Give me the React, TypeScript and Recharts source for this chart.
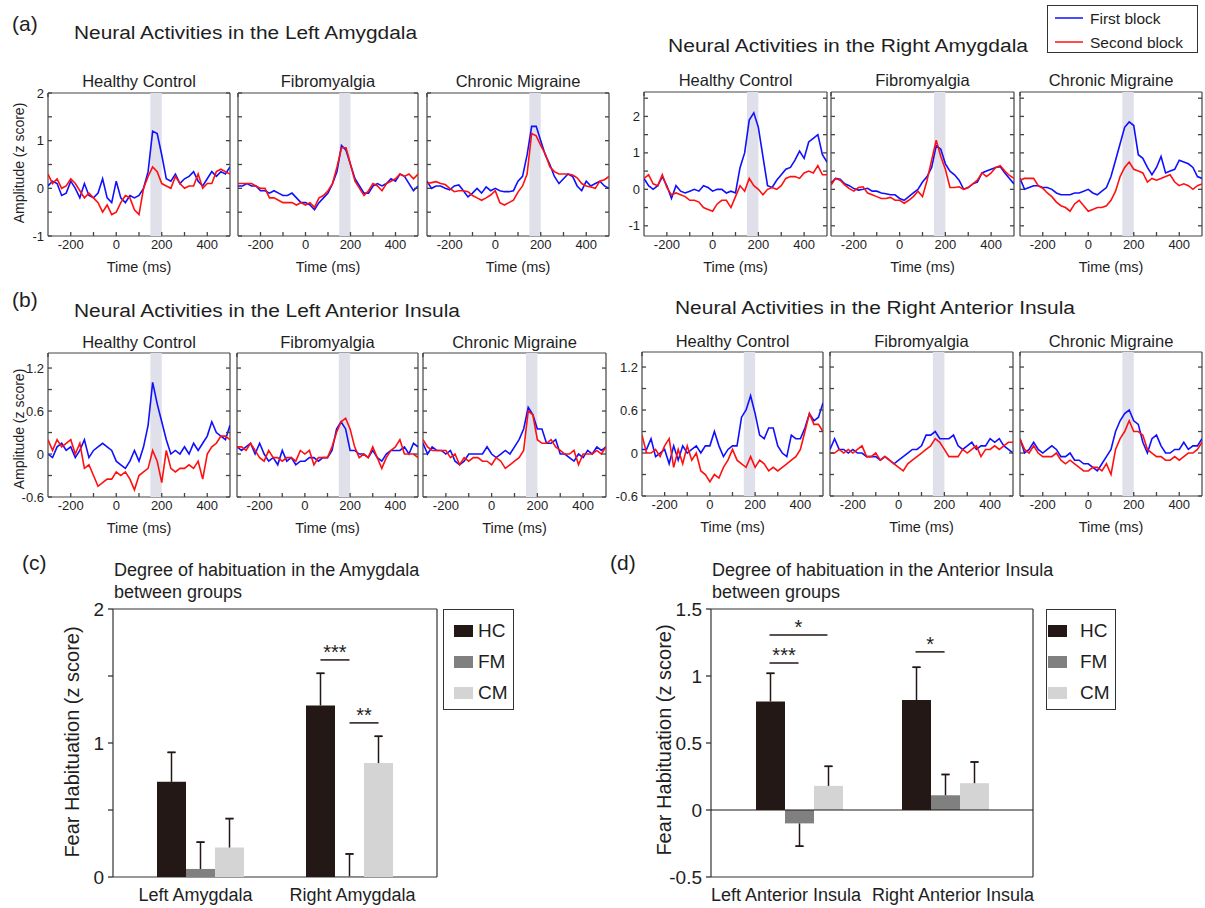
import React from "react"
import {
  LineChart,
  Line,
  BarChart,
  Bar,
  ErrorBar,
  XAxis,
  YAxis,
  CartesianGrid,
  ReferenceArea,
  ReferenceLine,
  Legend,
} from "recharts"

// ---- time courses (z score), sampled every 20 ms ----
const TIME_MS = [-300, -280, -260, -240, -220, -200, -180, -160, -140, -120, -100, -80, -60, -40, -20, 0, 20, 40, 60, 80, 100, 120, 140, 160, 180, 200, 220, 240, 260, 280, 300, 320, 340, 360, 380, 400, 420, 440, 460, 480, 500]
const X_TICKS = [-200, -100, 0, 100, 200, 300, 400]
const SHADE_MS = [150, 200]

const LA_HC_FIRST = [0.05, 0.15, 0.1, -0.15, -0.1, 0.15, 0.0, -0.2, 0.1, -0.15, -0.2, -0.1, 0.2, -0.2, -0.3, 0.15, -0.2, -0.3, -0.15, -0.2, -0.15, 0.0, 0.35, 1.2, 1.15, 0.7, 0.2, 0.15, 0.3, 0.1, 0.2, 0.25, 0.35, 0.15, 0.05, 0.2, 0.35, 0.25, 0.35, 0.3, 0.45]
const LA_HC_SECOND = [0.3, 0.1, 0.2, 0.0, 0.05, 0.2, 0.1, -0.05, -0.2, -0.1, -0.2, -0.3, -0.5, -0.35, -0.55, -0.5, -0.3, -0.15, -0.2, -0.45, -0.55, 0.0, 0.25, 0.45, 0.35, 0.1, 0.05, 0.0, 0.25, 0.1, 0.0, 0.05, 0.05, 0.3, 0.0, 0.1, 0.1, 0.35, 0.4, 0.35, 0.3]
const LA_FM_FIRST = [0.05, 0.05, 0.1, 0.05, 0.05, -0.05, -0.05, -0.1, -0.05, -0.1, -0.15, -0.15, -0.1, -0.2, -0.3, -0.3, -0.35, -0.45, -0.3, -0.2, -0.1, 0.1, 0.35, 0.9, 0.8, 0.5, 0.2, 0.05, -0.1, -0.1, 0.05, 0.1, 0.05, 0.1, 0.2, 0.15, 0.3, 0.25, 0.1, -0.05, 0.05]
const LA_FM_SECOND = [0.1, 0.1, 0.1, 0.1, 0.05, 0.0, 0.0, -0.2, -0.2, -0.25, -0.3, -0.3, -0.3, -0.35, -0.3, -0.35, -0.3, -0.4, -0.2, -0.15, -0.05, 0.1, 0.45, 0.85, 0.85, 0.5, 0.15, 0.0, -0.15, -0.05, 0.1, 0.05, -0.05, 0.1, 0.15, 0.2, 0.3, 0.25, 0.3, 0.2, 0.3]
const LA_CM_FIRST = [0.15, 0.0, 0.05, 0.05, 0.0, -0.03, 0.05, 0.07, -0.05, -0.18, -0.1, 0.0, -0.1, 0.03, -0.05, 0.0, -0.05, -0.07, -0.07, -0.05, 0.15, 0.25, 0.7, 1.3, 1.3, 1.0, 0.7, 0.5, 0.25, 0.1, 0.2, 0.3, 0.25, 0.05, -0.05, 0.15, 0.05, 0.1, 0.15, 0.05, 0.0]
const LA_CM_SECOND = [0.1, 0.12, 0.14, 0.1, 0.08, 0.0, -0.07, -0.05, -0.05, -0.07, -0.15, -0.2, -0.25, -0.2, -0.14, -0.05, -0.3, -0.35, -0.3, -0.25, -0.08, 0.05, 0.3, 1.15, 1.1, 0.9, 0.72, 0.45, 0.35, 0.3, 0.3, 0.3, 0.28, 0.22, 0.1, 0.05, 0.03, 0.0, 0.15, 0.18, 0.25]

const RA_HC_FIRST = [0.3, 0.1, 0.0, 0.1, 0.35, 0.1, -0.25, 0.1, -0.05, -0.1, -0.05, 0.0, -0.05, 0.1, 0.05, -0.05, 0.0, 0.0, -0.1, -0.05, -0.1, 0.6, 1.0, 1.9, 2.1, 1.7, 0.9, 0.1, 0.05, 0.25, 0.4, 0.55, 0.6, 0.8, 1.05, 0.85, 1.3, 1.4, 1.5, 0.95, 0.75]
const RA_HC_SECOND = [0.3, 0.4, 0.15, 0.1, 0.4, 0.05, -0.15, -0.1, -0.15, -0.2, -0.3, -0.3, -0.35, -0.5, -0.55, -0.6, -0.4, -0.3, -0.3, -0.5, -0.2, 0.1, -0.05, 0.3, 0.1, 0.0, -0.15, 0.0, 0.05, 0.0, 0.1, 0.3, 0.35, 0.35, 0.3, 0.45, 0.5, 0.45, 0.65, 0.4, 0.4]
const RA_FM_FIRST = [0.17, 0.3, 0.28, 0.15, 0.1, 0.02, -0.02, 0.0, 0.03, -0.05, -0.05, -0.1, -0.12, -0.15, -0.15, -0.25, -0.3, -0.2, -0.1, 0.0, 0.2, 0.35, 0.6, 1.2, 1.1, 0.7, 0.5, 0.4, 0.25, 0.0, 0.05, 0.15, 0.2, 0.45, 0.5, 0.55, 0.6, 0.62, 0.45, 0.3, 0.15]
const RA_FM_SECOND = [0.12, 0.3, 0.25, 0.12, 0.02, -0.05, 0.05, 0.07, -0.1, -0.15, -0.2, -0.25, -0.25, -0.22, -0.3, -0.3, -0.38, -0.3, -0.2, -0.05, -0.2, 0.25, 0.8, 1.35, 0.9, 0.55, 0.05, 0.05, 0.07, 0.0, 0.05, 0.15, 0.25, 0.45, 0.35, 0.45, 0.6, 0.65, 0.5, 0.38, 0.3]
const RA_CM_FIRST = [0.3, 0.0, 0.05, 0.1, 0.1, 0.05, 0.05, 0.0, -0.1, -0.15, -0.15, -0.15, -0.1, -0.1, -0.05, 0.0, -0.1, -0.15, -0.05, 0.05, 0.35, 0.8, 1.25, 1.7, 1.85, 1.75, 0.95, 0.85, 0.6, 0.4, 0.6, 0.9, 0.45, 0.5, 0.55, 0.8, 0.75, 0.7, 0.6, 0.35, 0.3]
const RA_CM_SECOND = [0.25, 0.3, 0.3, 0.3, 0.1, 0.03, -0.1, -0.2, -0.35, -0.45, -0.5, -0.6, -0.4, -0.3, -0.45, -0.6, -0.55, -0.5, -0.5, -0.45, -0.3, -0.05, 0.35, 0.6, 0.75, 0.55, 0.5, 0.45, 0.2, 0.3, 0.25, 0.3, 0.35, 0.4, 0.2, 0.1, 0.15, 0.1, 0.0, 0.1, 0.15]

const LI_HC_FIRST = [0.0, -0.05, 0.1, 0.15, 0.05, 0.1, -0.05, 0.05, 0.2, -0.05, 0.05, 0.1, 0.15, 0.1, 0.05, -0.1, -0.15, -0.2, -0.1, 0.05, -0.1, 0.1, 0.4, 1.0, 0.7, 0.45, 0.2, 0.0, 0.05, 0.0, 0.1, 0.0, 0.15, 0.05, 0.15, 0.25, 0.45, 0.3, 0.25, 0.2, 0.4]
const LI_HC_SECOND = [0.2, 0.05, 0.2, 0.1, 0.15, 0.2, 0.0, 0.15, -0.2, -0.15, -0.3, -0.45, -0.4, -0.35, -0.35, -0.25, -0.3, -0.25, -0.35, -0.5, -0.3, -0.25, -0.2, 0.05, -0.1, -0.4, 0.05, -0.2, -0.25, -0.2, -0.2, -0.15, -0.2, -0.1, -0.35, 0.0, 0.1, 0.15, 0.25, 0.25, 0.2]
const LI_FM_FIRST = [0.1, 0.05, 0.1, 0.15, 0.0, 0.15, 0.0, -0.1, -0.05, -0.15, 0.05, -0.1, -0.05, -0.15, -0.1, -0.1, -0.05, -0.05, -0.1, -0.05, -0.05, 0.05, 0.35, 0.45, 0.35, 0.05, 0.05, 0.0, 0.0, -0.05, 0.05, -0.05, -0.1, 0.0, 0.05, 0.05, 0.05, 0.1, 0.0, 0.15, 0.1]
const LI_FM_SECOND = [0.1, 0.1, 0.05, 0.15, 0.05, -0.05, -0.1, 0.05, -0.05, -0.05, -0.1, -0.05, -0.05, -0.1, 0.05, 0.0, 0.05, -0.15, -0.05, -0.05, -0.05, 0.1, 0.3, 0.45, 0.5, 0.35, 0.1, -0.05, 0.0, -0.05, 0.1, -0.05, -0.2, -0.05, 0.05, 0.1, 0.2, 0.0, 0.0, 0.0, -0.05]
const LI_CM_FIRST = [0.15, 0.0, 0.1, 0.05, 0.05, 0.0, 0.05, -0.1, -0.15, -0.1, 0.0, 0.0, 0.0, 0.0, 0.1, 0.0, -0.05, 0.0, 0.05, 0.0, 0.1, 0.2, 0.35, 0.65, 0.55, 0.35, 0.35, 0.15, 0.15, 0.2, 0.0, 0.0, -0.05, -0.1, 0.0, -0.05, 0.05, 0.0, 0.1, 0.05, 0.1]
const LI_CM_SECOND = [0.2, 0.1, 0.05, 0.05, 0.05, 0.05, -0.05, 0.0, -0.15, -0.05, -0.1, -0.05, -0.05, -0.1, -0.1, -0.15, -0.05, -0.1, -0.2, -0.15, -0.1, -0.05, 0.05, 0.6, 0.55, 0.2, 0.15, 0.15, 0.2, 0.1, 0.05, 0.0, 0.0, 0.05, -0.15, 0.0, 0.0, 0.0, 0.05, 0.0, 0.1]

const RI_HC_FIRST = [0.05, 0.05, 0.2, -0.05, 0.0, 0.05, -0.15, 0.1, -0.1, 0.1, 0.0, 0.05, 0.1, 0.0, 0.1, 0.1, 0.3, 0.1, -0.05, 0.05, 0.1, 0.1, 0.5, 0.6, 0.8, 0.55, 0.25, 0.2, 0.35, 0.35, 0.1, 0.0, -0.05, 0.25, 0.2, 0.2, 0.35, 0.55, 0.45, 0.5, 0.7]
const RI_HC_SECOND = [0.25, 0.0, 0.0, 0.05, -0.05, 0.1, 0.2, -0.2, 0.05, -0.15, 0.1, -0.1, 0.0, -0.25, -0.3, -0.4, -0.3, -0.35, -0.2, -0.1, 0.05, -0.1, -0.15, -0.2, -0.05, -0.2, -0.1, -0.15, -0.25, -0.2, -0.25, -0.2, -0.15, -0.1, -0.05, 0.05, 0.3, 0.55, 0.4, 0.4, 0.3]
const RI_FM_FIRST = [0.05, 0.2, 0.05, 0.05, 0.0, 0.05, 0.0, 0.0, -0.05, -0.05, -0.05, -0.1, -0.05, -0.1, -0.15, -0.1, -0.05, 0.0, 0.05, 0.05, 0.1, 0.25, 0.25, 0.3, 0.2, 0.2, 0.2, 0.25, 0.1, 0.05, 0.1, 0.15, 0.05, 0.1, 0.1, 0.2, 0.15, 0.2, 0.1, 0.05, 0.0]
const RI_FM_SECOND = [0.0, 0.0, 0.05, 0.0, 0.05, 0.0, 0.05, 0.1, -0.05, -0.05, 0.0, -0.1, -0.05, -0.1, -0.15, -0.2, -0.25, -0.15, -0.1, -0.05, 0.0, 0.05, 0.1, 0.2, 0.15, 0.05, -0.05, -0.05, -0.05, 0.05, 0.0, 0.05, 0.1, -0.05, 0.05, 0.05, 0.1, 0.05, 0.1, 0.15, 0.15]
const RI_CM_FIRST = [0.2, 0.0, 0.05, 0.15, 0.05, 0.0, 0.05, 0.1, 0.05, -0.05, -0.05, 0.0, -0.1, -0.1, -0.15, -0.15, -0.2, -0.25, -0.15, -0.05, 0.05, 0.3, 0.45, 0.55, 0.6, 0.45, 0.4, 0.15, 0.0, 0.2, 0.25, 0.1, 0.0, 0.0, 0.05, 0.05, 0.15, 0.05, 0.1, 0.1, 0.2]
const RI_CM_SECOND = [0.2, 0.05, 0.0, 0.1, 0.0, -0.05, -0.05, -0.05, 0.0, -0.1, -0.15, -0.1, -0.15, -0.2, -0.25, -0.25, -0.2, -0.2, -0.25, -0.15, -0.3, 0.05, 0.2, 0.3, 0.45, 0.3, 0.3, 0.25, 0.05, 0.0, -0.05, -0.05, -0.1, -0.1, -0.05, -0.1, -0.05, 0.0, 0.0, 0.05, 0.15]

// ---- habituation bars ----
const GROUPS = ["HC", "FM", "CM"]
const AMY_REGIONS = ["Left Amygdala", "Right Amygdala"]
const AMY_MEAN = { HC: [0.71, 1.28], FM: [0.06, 0.005], CM: [0.22, 0.85] }
const AMY_SE = { HC: [0.22, 0.24], FM: [0.2, 0.167], CM: [0.216, 0.2] }
const INS_REGIONS = ["Left Anterior Insula", "Right Anterior Insula"]
const INS_MEAN = { HC: [0.81, 0.82], FM: [-0.1, 0.11], CM: [0.18, 0.2] }
const INS_SE = { HC: [0.21, 0.245], FM: [0.17, 0.155], CM: [0.146, 0.158] }
// region centre on the hidden numeric axis (0..2)
const REGION_POS = [0.5, 1.5]

// significance brackets: x in region units (0..2), y in z score
const AMY_SIG = [
  { from: 1.305, to: 1.5, y: 1.62, text: "***" },
  { from: 1.5, to: 1.695, y: 1.15, text: "**" },
]
const INS_SIG = [
  { from: 0.298, to: 0.695, y: 1.306, text: "*" },
  { from: 0.298, to: 0.497, y: 1.097, text: "***" },
  { from: 1.298, to: 1.497, y: 1.18, text: "*" },
]

const FONT = '"Liberation Sans", Arial, Helvetica, sans-serif'
const INK = "#1e1e1e"
const FRAME = "#444"
const BLUE = "#1010ff"
const RED = "#ff1010"
const BAR_COLORS: Record<string, string> = { HC: "#231815", FM: "#808080", CM: "#d4d4d4" }

type YCfg = { domain: [number, number]; ticks: number[]; labels: number[] }
const Y_LAMY: YCfg = { domain: [-1, 2], ticks: [-1, -0.5, 0, 0.5, 1, 1.5, 2], labels: [-1, 0, 1, 2] }
const Y_RAMY: YCfg = { domain: [-1.28, 2.67], ticks: [-1, -0.5, 0, 0.5, 1, 1.5, 2, 2.5], labels: [-1, 0, 1, 2] }
const Y_INS: YCfg = { domain: [-0.6, 1.41], ticks: [-0.6, -0.3, 0, 0.3, 0.6, 0.9, 1.2], labels: [-0.6, 0, 0.6, 1.2] }

const PANELS = [
  { x0: 48, x1: 230, y0: 93, y1: 236, sub: 87, title: "Healthy Control", cfg: Y_LAMY, showY: true, first: LA_HC_FIRST, second: LA_HC_SECOND },
  { x0: 238, x1: 418, y0: 93, y1: 236, sub: 87, title: "Fibromyalgia", cfg: Y_LAMY, showY: false, first: LA_FM_FIRST, second: LA_FM_SECOND },
  { x0: 427, x1: 609, y0: 93, y1: 236, sub: 87, title: "Chronic Migraine", cfg: Y_LAMY, showY: false, first: LA_CM_FIRST, second: LA_CM_SECOND },
  { x0: 644, x1: 827, y0: 92, y1: 236, sub: 86, title: "Healthy Control", cfg: Y_RAMY, showY: true, first: RA_HC_FIRST, second: RA_HC_SECOND },
  { x0: 831, x1: 1014, y0: 92, y1: 236, sub: 86, title: "Fibromyalgia", cfg: Y_RAMY, showY: false, first: RA_FM_FIRST, second: RA_FM_SECOND },
  { x0: 1020, x1: 1202, y0: 92, y1: 236, sub: 86, title: "Chronic Migraine", cfg: Y_RAMY, showY: false, first: RA_CM_FIRST, second: RA_CM_SECOND },
  { x0: 48, x1: 230, y0: 353, y1: 497, sub: 348, title: "Healthy Control", cfg: Y_INS, showY: true, first: LI_HC_FIRST, second: LI_HC_SECOND },
  { x0: 237, x1: 418, y0: 353, y1: 497, sub: 348, title: "Fibromyalgia", cfg: Y_INS, showY: false, first: LI_FM_FIRST, second: LI_FM_SECOND },
  { x0: 423, x1: 606, y0: 353, y1: 497, sub: 348, title: "Chronic Migraine", cfg: Y_INS, showY: false, first: LI_CM_FIRST, second: LI_CM_SECOND },
  { x0: 642, x1: 823, y0: 352, y1: 496, sub: 347, title: "Healthy Control", cfg: Y_INS, showY: true, first: RI_HC_FIRST, second: RI_HC_SECOND },
  { x0: 830, x1: 1013, y0: 352, y1: 496, sub: 347, title: "Fibromyalgia", cfg: Y_INS, showY: false, first: RI_FM_FIRST, second: RI_FM_SECOND },
  { x0: 1020, x1: 1202, y0: 352, y1: 496, sub: 347, title: "Chronic Migraine", cfg: Y_INS, showY: false, first: RI_CM_FIRST, second: RI_CM_SECOND },
]

type Panel = (typeof PANELS)[number]

// full box around the plot area, taken from the chart's own offset
const frameH = ({ offset }: any) => [offset.top, offset.top + offset.height]
const frameV = ({ offset }: any) => [offset.left, offset.left + offset.width]

// tick = short mark from the axis line (len > 0 points into the plot) + optional label
type Side = "top" | "bottom" | "left" | "right"
function makeTick(side: Side, margin: number, len: number, fmt: (v: number) => string, fontSize: number, color: string) {
  return (t: any) => {
    const label = fmt(t.payload?.value)
    const tx = Number(t.x)
    const ty = Number(t.y)
    let d = ""
    let text: React.ReactNode = null
    if (side === "bottom") {
      d = `M${tx},${ty - margin}V${ty - margin - len}`
      if (label) text = <text x={tx} y={ty} dy="0.71em" textAnchor="middle" fill={INK} fontSize={fontSize} fontFamily={FONT}>{label}</text>
    } else if (side === "top") {
      d = `M${tx},${ty + margin}V${ty + margin + len}`
    } else if (side === "left") {
      d = `M${tx + margin},${ty}H${tx + margin + len}`
      if (label) text = <text x={tx} y={ty} dy="0.35em" textAnchor="end" fill={INK} fontSize={fontSize} fontFamily={FONT}>{label}</text>
    } else {
      d = `M${tx - margin},${ty}H${tx - margin - len}`
    }
    return (
      <g>
        <path d={d} stroke={color} strokeWidth={1.3} fill="none" />
        {text}
      </g>
    )
  }
}

const fmtTime = (v: number) => (v % 200 === 0 ? String(v) : "")
const noLabel = () => ""
const TICK_TOP = makeTick("top", 0, 4, noLabel, 13, FRAME)
const TICK_RIGHT = makeTick("right", 0, 4, noLabel, 13, FRAME)
const TICK_BOTTOM = makeTick("bottom", 4, 4, fmtTime, 13, FRAME)

function TimePanel({ x0, x1, y0, y1, cfg, showY, first, second }: Panel) {
  const rows = TIME_MS.map((t, i) => ({ t, first: first[i], second: second[i] }))
  const YW = 34
  const TOP = 10
  const RIGHT = 4
  const XH = 42
  const tickLeft = makeTick("left", 4, 4, (v) => (showY && cfg.labels.includes(v) ? String(v) : ""), 13, FRAME)
  return (
    <div style={{ position: "absolute", left: x0 - YW, top: y0 - TOP }}>
      <LineChart
        width={YW + (x1 - x0) + RIGHT}
        height={TOP + (y1 - y0) + XH}
        data={rows}
        margin={{ top: TOP - 1, right: RIGHT - 1, bottom: 0, left: 0 }}
      >
        <ReferenceArea xAxisId="b" yAxisId="l" x1={SHADE_MS[0]} x2={SHADE_MS[1]} fill="#dfe0ea" fillOpacity={1} stroke="none" />
        <CartesianGrid xAxisId="b" yAxisId="l" stroke={FRAME} strokeWidth={1.2} horizontalCoordinatesGenerator={frameH} verticalCoordinatesGenerator={frameV} />
        <XAxis
          xAxisId="b"
          dataKey="t"
          type="number"
          domain={[-300, 500]}
          allowDataOverflow
          ticks={X_TICKS}
          interval={0}
          tickSize={0}
          tickMargin={4}
          height={XH}
          axisLine={false}
          tickLine={false}
          tick={TICK_BOTTOM}
          label={{ value: "Time (ms)", position: "insideBottom", offset: 6, fill: INK, fontSize: 14.5, fontFamily: FONT }}
        />
        <XAxis xAxisId="t" orientation="top" type="number" domain={[-300, 500]} allowDataOverflow ticks={X_TICKS} interval={0} tickSize={0} tickMargin={0} height={1} axisLine={false} tickLine={false} tick={TICK_TOP} />
        <YAxis
          yAxisId="l"
          type="number"
          domain={cfg.domain}
          allowDataOverflow
          ticks={cfg.ticks}
          interval={0}
          tickSize={0}
          tickMargin={4}
          width={YW}
          axisLine={false}
          tickLine={false}
          tick={tickLeft}
        />
        <YAxis yAxisId="r" orientation="right" type="number" domain={cfg.domain} allowDataOverflow ticks={cfg.ticks} interval={0} tickSize={0} tickMargin={0} width={1} axisLine={false} tickLine={false} tick={TICK_RIGHT} />
        <Line xAxisId="b" yAxisId="l" type="linear" dataKey="first" stroke={BLUE} strokeWidth={1.6} dot={false} isAnimationActive={false} />
        <Line xAxisId="b" yAxisId="l" type="linear" dataKey="second" stroke={RED} strokeWidth={1.6} dot={false} isAnimationActive={false} />
      </LineChart>
    </div>
  )
}

type Sig = { from: number; to: number; y: number; text: string }

interface HabProps {
  left: number
  top: number
  width: number
  height: number
  plot: { l: number; r: number; t: number; b: number }
  pad: number
  regions: string[]
  labelShift: number[]
  mean: Record<string, number[]>
  se: Record<string, number[]>
  yDomain: [number, number]
  yTicks: number[]
  yLabels: number[]
  sigs: Sig[]
  zeroLine: boolean
  legend: { x: number; w: number; swatchX: number; textX: number }
}

function HabituationChart(p: HabProps) {
  const rows = p.regions.map((region, i) => {
    const row: Record<string, any> = { region, pos: REGION_POS[i] }
    GROUPS.forEach((g) => {
      const m = p.mean[g][i]
      const s = p.se[g][i]
      row[g] = m
      // one-sided whisker away from zero, and a cap only at its far end
      row[g + "err"] = m >= 0 ? [0, s] : [s, 0]
      row[g + "cap"] = m >= 0 ? [-s, s] : [s, -s]
    })
    return row
  })
  const pad = { left: p.pad, right: p.pad }
  const tickLeft = makeTick("left", 9, -5, (v) => (p.yLabels.includes(v) ? String(v) : ""), 19, "#333")

  const renderLegend = (props: any) => {
    const items = (props.payload || [])
      .filter((e: any) => GROUPS.includes(e.value))
      .sort((a: any, b: any) => GROUPS.indexOf(a.value) - GROUPS.indexOf(b.value))
    return (
      <div
        style={{
          width: p.legend.w,
          height: 101,
          boxSizing: "border-box",
          border: "1.3px solid #333",
          background: "#fff",
          position: "relative",
          fontFamily: FONT,
        }}
      >
        {items.map((e: any, i: number) => (
          <div key={e.value} style={{ position: "absolute", left: 0, top: 9 + i * 31, height: 24, width: "100%" }}>
            <span style={{ position: "absolute", left: p.legend.swatchX, top: 6, width: 19, height: 12, background: e.color }} />
            <span style={{ position: "absolute", left: p.legend.textX, top: 0, fontSize: 19, lineHeight: "24px", color: INK }}>{e.value}</span>
          </div>
        ))}
      </div>
    )
  }

  const CategoryTick = (t: any) => (
    <text x={Number(t.x) + (p.labelShift[t.index] || 0)} y={t.y} dy="0.71em" textAnchor="middle" fill={INK} fontSize={18} fontFamily={FONT}>
      {t.payload.value}
    </text>
  )

  return (
    <div style={{ position: "absolute", left: p.left, top: p.top }}>
      <BarChart
        width={p.width}
        height={p.height}
        data={rows}
        barGap={0}
        margin={{ top: p.plot.t - p.top, right: p.left + p.width - p.plot.r, bottom: 0, left: 0 }}
      >
        <CartesianGrid xAxisId="c" yAxisId="l" stroke="#333" strokeWidth={1.2} horizontalCoordinatesGenerator={frameH} verticalCoordinatesGenerator={frameV} />
        <XAxis
          xAxisId="c"
          dataKey="region"
          padding={pad}
          interval={0}
          tickLine={false}
          axisLine={false}
          tickSize={0}
          tickMargin={11}
          height={p.top + p.height - p.plot.b}
          tick={CategoryTick}
        />
        <XAxis xAxisId="n" dataKey="pos" type="number" domain={[0, 2]} padding={pad} allowDataOverflow hide />
        <YAxis
          yAxisId="l"
          type="number"
          domain={p.yDomain}
          allowDataOverflow
          ticks={p.yTicks}
          interval={0}
          tickSize={0}
          tickMargin={9}
          width={p.plot.l - p.left}
          axisLine={false}
          tickLine={false}
          tick={tickLeft}
        />
        {GROUPS.map((g) => (
          <Bar key={g} xAxisId="c" yAxisId="l" dataKey={g} name={g} fill={BAR_COLORS[g]} barSize={29} isAnimationActive={false}>
            <ErrorBar dataKey={g + "err"} direction="y" width={0} stroke="#231815" strokeWidth={1.5} />
            <ErrorBar dataKey={g + "cap"} direction="y" width={4} stroke="#231815" strokeWidth={1.5} />
          </Bar>
        ))}
        {p.zeroLine && <ReferenceLine xAxisId="c" yAxisId="l" y={0} stroke="#231815" strokeWidth={1.2} />}
        {p.sigs.map((s, i) => (
          <ReferenceLine
            key={i}
            xAxisId="n"
            yAxisId="l"
            ifOverflow="visible"
            segment={[
              { x: s.from, y: s.y },
              { x: s.to, y: s.y },
            ]}
            stroke="#231815"
            strokeWidth={1.5}
            label={{ value: s.text, position: "top", offset: 1, fill: INK, fontSize: 20, fontFamily: FONT }}
          />
        ))}
        <Legend
          layout="vertical"
          align="center"
          verticalAlign="middle"
          content={renderLegend}
          wrapperStyle={{ position: "absolute", left: p.legend.x - p.left, top: p.plot.t - p.top, width: p.legend.w }}
        />
      </BarChart>
    </div>
  )
}

export default function App() {
  return (
    <div style={{ position: "absolute", left: 0, top: 0, width: 1205, height: 908, background: "#fff", fontFamily: FONT, overflow: "hidden" }}>
      <svg width={1205} height={908} style={{ position: "absolute", left: 0, top: 0 }} fontFamily={FONT} fill={INK}>
        <text x={12} y={31} fontSize={21}>(a)</text>
        <text x={74} y={39} fontSize={18} textLength={343} lengthAdjust="spacingAndGlyphs">Neural Activities in the Left Amygdala</text>
        <text x={668} y={52} fontSize={18} textLength={360} lengthAdjust="spacingAndGlyphs">Neural Activities in the Right Amygdala</text>
        <text x={12} y={307} fontSize={21}>(b)</text>
        <text x={74} y={317} fontSize={18} textLength={386} lengthAdjust="spacingAndGlyphs">Neural Activities in the Left Anterior Insula</text>
        <text x={675} y={314} fontSize={18} textLength={400} lengthAdjust="spacingAndGlyphs">Neural Activities in the Right Anterior Insula</text>
        {PANELS.map((p, i) => (
          <text key={i} x={(p.x0 + p.x1) / 2} y={p.sub} fontSize={16.5} textAnchor="middle">{p.title}</text>
        ))}
        <text transform="translate(19,163) rotate(-90)" fontSize={14} textAnchor="middle" dy="0.35em">Amplitude (z score)</text>
        <text transform="translate(19,429) rotate(-90)" fontSize={14} textAnchor="middle" dy="0.35em">Amplitude (z score)</text>

        <rect x={1047.5} y={5.5} width={150} height={47} fill="#fff" stroke="#333" strokeWidth={1} />
        <line x1={1055} x2={1083} y1={18} y2={18} stroke={BLUE} strokeWidth={1.5} />
        <text x={1090} y={23.5} fontSize={15.5}>First block</text>
        <line x1={1055} x2={1083} y1={42} y2={42} stroke={RED} strokeWidth={1.5} />
        <text x={1090} y={47.5} fontSize={15.5}>Second block</text>

        <text x={22} y={570} fontSize={21}>(c)</text>
        <text x={114} y={576} fontSize={18}>Degree of habituation in the Amygdala</text>
        <text x={114} y={598} fontSize={18}>between groups</text>
        <text transform="translate(72,742) rotate(-90)" fontSize={20} textAnchor="middle" dy="0.35em">Fear Habituation (z score)</text>

        <text x={610} y={570} fontSize={21}>(d)</text>
        <text x={712} y={576} fontSize={18}>Degree of habituation in the Anterior Insula</text>
        <text x={712} y={598} fontSize={18}>between groups</text>
        <text transform="translate(664,740) rotate(-90)" fontSize={20} textAnchor="middle" dy="0.35em">Fear Habituation (z score)</text>
      </svg>

      {PANELS.map((p, i) => (
        <TimePanel key={i} {...p} />
      ))}

      <HabituationChart
        left={0}
        top={540}
        width={520}
        height={368}
        plot={{ l: 113, r: 437, t: 609, b: 877 }}
        pad={13}
        regions={AMY_REGIONS}
        labelShift={[-5, 3]}
        mean={AMY_MEAN}
        se={AMY_SE}
        yDomain={[0, 2]}
        yTicks={[0, 0.5, 1, 1.5, 2]}
        yLabels={[0, 1, 2]}
        sigs={AMY_SIG}
        zeroLine={false}
        legend={{ x: 443, w: 71, swatchX: 10, textX: 34 }}
      />
      <HabituationChart
        left={600}
        top={540}
        width={605}
        height={368}
        plot={{ l: 711, r: 1033, t: 609, b: 877 }}
        pad={15}
        regions={INS_REGIONS}
        labelShift={[-13, 8]}
        mean={INS_MEAN}
        se={INS_SE}
        yDomain={[-0.5, 1.5]}
        yTicks={[-0.5, 0, 0.5, 1, 1.5]}
        yLabels={[-0.5, 0, 0.5, 1, 1.5]}
        sigs={INS_SIG}
        zeroLine={true}
        legend={{ x: 1046, w: 70, swatchX: 1, textX: 33 }}
      />
    </div>
  )
}
